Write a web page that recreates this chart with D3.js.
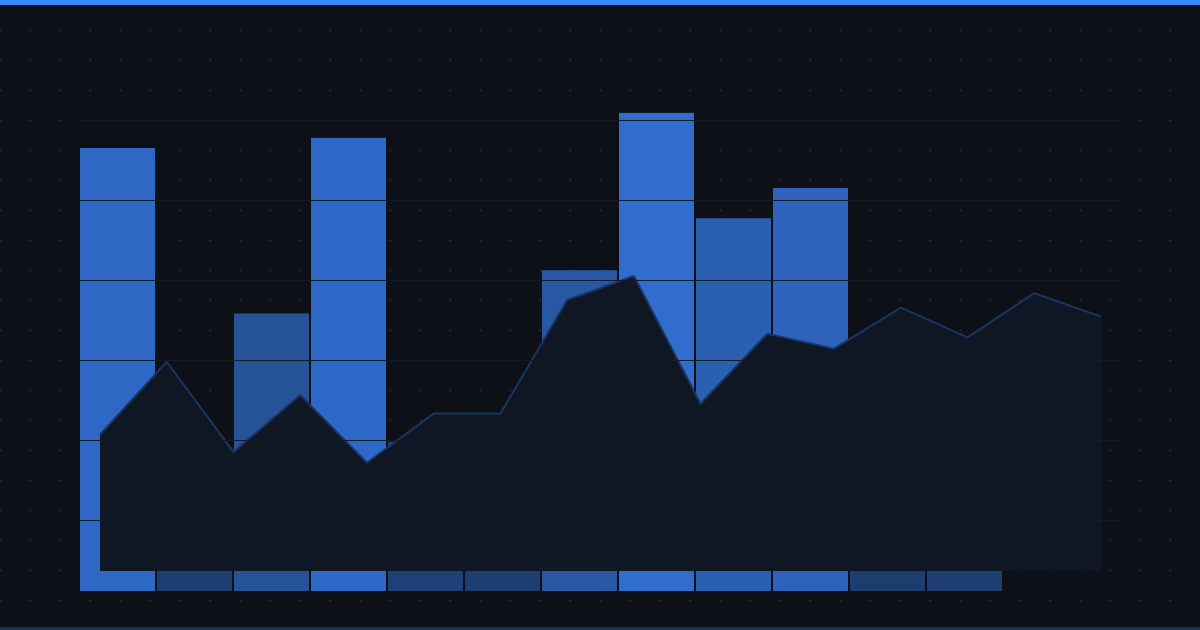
<!DOCTYPE html>
<html>
<head>
<meta charset="utf-8">
<script src="https://cdn.jsdelivr.net/npm/d3@7"></script>
<style>
  html, body { margin: 0; padding: 0; background: #0d1017; }
  svg { display: block; }
</style>
</head>
<body>
<svg id="chart" width="1200" height="630"></svg>
<script>
// Bar series, one value per column.
var barCategories = ["B1", "B2", "B3", "B4", "B5", "B6", "B7", "B8", "B9", "B10", "B11", "B12"];
var barValues = [92.1, 26, 57.7, 94.2, 31, 27, 66.7, 99.4, 77.5, 83.8, 25, 26];

var areaCategories = ["A1", "A2", "A3", "A4", "A5", "A6", "A7", "A8", "A9", "A10", "A11", "A12", "A13", "A14", "A15", "A16"];
var areaValues = [30.2, 46.4, 26.4, 39.0, 24.0, 34.9, 34.9, 60.1, 65.4, 37.1, 52.6, 49.3, 58.4, 51.8, 61.6, 56.4];

// Horizontal guide levels.
var gridLevels = [1, 2, 3, 4, 5, 6];

var width = 1200, height = 630;
var svg = d3.select("#chart");

// Background grid of small plus marks every 30px.
var defs = svg.append("defs");
var pattern = defs.append("pattern")
    .attr("id", "plus-grid")
    .attr("patternUnits", "userSpaceOnUse")
    .attr("x", -15)
    .attr("y", -15)
    .attr("width", 30)
    .attr("height", 30);
pattern.append("path")
    .attr("d", "M14,15.5H17M15.5,14V17")
    .attr("stroke", "#1a2436")
    .attr("stroke-width", 1);

svg.append("rect")
    .attr("width", width)
    .attr("height", height)
    .attr("fill", "#0d1017");
svg.append("rect")
    .attr("width", width)
    .attr("height", height)
    .attr("fill", "url(#plus-grid)");

// Scales.
var x = d3.scaleBand()
    .domain(barCategories)
    .range([80, 1002])
    .paddingInner(2 / 77)
    .paddingOuter(0);
var y = d3.scaleLinear()
    .domain([0, 100])
    .range([591, 110]);
var xArea = d3.scalePoint()
    .domain(areaCategories)
    .range([100, 1101]);
var yArea = d3.scaleLinear()
    .domain([0, 100])
    .range([571, 120]);
var yGrid = d3.scaleLinear()
    .domain([0, 6])
    .range([600, 120]);

// Bar brightness follows the value.
var shade = d3.scaleLinear()
    .domain([0, 100])
    .range([0.24, 0.79]);
var blend = d3.interpolateRgb("#0d1017", "#3a86ff");

svg.append("g")
    .selectAll("rect")
    .data(barValues)
    .join("rect")
    .attr("x", function (d, i) { return x(barCategories[i]); })
    .attr("y", function (d) { return y(d); })
    .attr("width", x.bandwidth())
    .attr("height", function (d) { return y(0) - y(d); })
    .attr("fill", function (d) { return blend(shade(d)); });

// Area in front of the bars.
var area = d3.area()
    .x(function (d, i) { return xArea(areaCategories[i]); })
    .y0(yArea(0))
    .y1(function (d) { return yArea(d); });
var line = d3.line()
    .x(function (d, i) { return xArea(areaCategories[i]); })
    .y(function (d) { return yArea(d); });

svg.append("path")
    .datum(areaValues)
    .attr("d", area)
    .attr("fill", "#0f1724");
svg.append("path")
    .datum(areaValues)
    .attr("d", line)
    .attr("fill", "none")
    .attr("stroke", "#1b3560")
    .attr("stroke-width", 2)
    .attr("stroke-linejoin", "miter");

// Guide lines sit on top of everything.
svg.append("g")
    .selectAll("line")
    .data(gridLevels)
    .join("line")
    .attr("x1", 80)
    .attr("x2", 1121)
    .attr("y1", function (d) { return Math.round(yGrid(d)) + 0.5; })
    .attr("y2", function (d) { return Math.round(yGrid(d)) + 0.5; })
    .attr("stroke", "#141a26")
    .attr("stroke-width", 1.2);

// Accent strips.
svg.append("rect")
    .attr("x", 0).attr("y", 0)
    .attr("width", width).attr("height", 5)
    .attr("fill", "#3a86ff");
svg.append("rect")
    .attr("x", 0).attr("y", 627)
    .attr("width", width).attr("height", 3)
    .attr("fill", "#1c3057");
</script>
</body>
</html>
